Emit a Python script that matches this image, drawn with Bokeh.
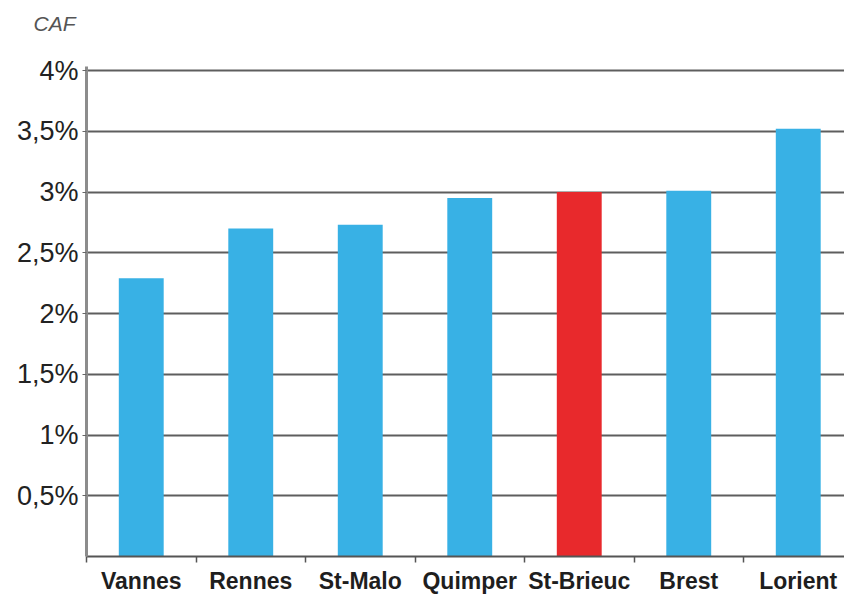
from bokeh.plotting import figure
from bokeh.models import FixedTicker, Range1d
from bokeh.embed import file_html
from bokeh.resources import INLINE

# --- data ---
cities = ["Vannes", "Rennes", "St-Malo", "Quimper", "St-Brieuc", "Brest", "Lorient"]
caf_pct = [2.29, 2.70, 2.73, 2.95, 3.00, 3.01, 3.52]
bar_colors = ["#38b1e5", "#38b1e5", "#38b1e5", "#38b1e5", "#e8292c", "#38b1e5", "#38b1e5"]
y_ticks = [0.5, 1.0, 1.5, 2.0, 2.5, 3.0, 3.5, 4.0]
y_tick_labels = ["0,5%", "1%", "1,5%", "2%", "2,5%", "3%", "3,5%", "4%"]
y_title = "CAF"

xpos = [i + 0.5 for i in range(len(cities))]

p = figure(width=844, height=596, output_backend="svg", toolbar_location=None,
           x_range=Range1d(0, 758 / 109.5), y_range=Range1d(0, 4 + 4 / 121.5),
           min_border_left=86, min_border_right=0, min_border_top=66, min_border_bottom=40)
p.outline_line_color = None
p.background_fill_color = "white"

# title placed high above the frame: an extra blank line lifts it
p.title.text = y_title + "\n "
p.title.align = "left"
p.title.vertical_align = "bottom"
p.title.offset = -53
p.title.text_font = "Liberation Sans"
p.title.text_font_style = "italic"
p.title.text_font_size = "21px"
p.title.text_line_height = 1.37
p.title.text_color = "#555555"
p.title.standoff = 0

p.vbar(x=xpos, top=caf_pct, width=0.41, color=bar_colors, line_color=None)

# y axis
p.yaxis.ticker = FixedTicker(ticks=y_ticks)
p.yaxis.major_label_overrides = {t: l for t, l in zip(y_ticks, y_tick_labels)}
p.yaxis.axis_line_color = "#8c8c8c"
p.yaxis.axis_line_width = 3
p.yaxis.major_tick_in = 0
p.yaxis.major_tick_out = 4
p.yaxis.major_tick_line_color = "#666666"
p.yaxis.minor_tick_line_color = None
p.yaxis.major_label_standoff = 4
p.yaxis.major_label_text_font = "Liberation Sans"
p.yaxis.major_label_text_font_size = "27px"
p.yaxis.major_label_text_color = "#222222"

# x axis: labels at centers, ticks at category boundaries
p.xaxis.ticker = FixedTicker(ticks=xpos, minor_ticks=list(range(len(cities) + 1)))
p.xaxis.major_label_overrides = {x: c for x, c in zip(xpos, cities)}
p.xaxis.major_tick_line_color = None
p.xaxis.major_tick_in = 0
p.xaxis.major_tick_out = 0
p.xaxis.minor_tick_in = 0
p.xaxis.minor_tick_out = 6
p.xaxis.minor_tick_line_color = "#555555"
p.xaxis.minor_tick_line_width = 1.5
p.xaxis.axis_line_color = "#555555"
p.xaxis.axis_line_width = 2
p.xaxis.major_label_standoff = 5
p.xaxis.major_label_text_font = "Liberation Sans"
p.xaxis.major_label_text_font_style = "bold"
p.xaxis.major_label_text_font_size = "23px"
p.xaxis.major_label_text_color = "#1e1e1e"

p.xgrid.grid_line_color = None
p.ygrid.ticker = FixedTicker(ticks=y_ticks)
p.ygrid.grid_line_color = "#5e5e5e"
p.ygrid.grid_line_width = 2

open("out.html", "w").write(file_html(p, INLINE))
